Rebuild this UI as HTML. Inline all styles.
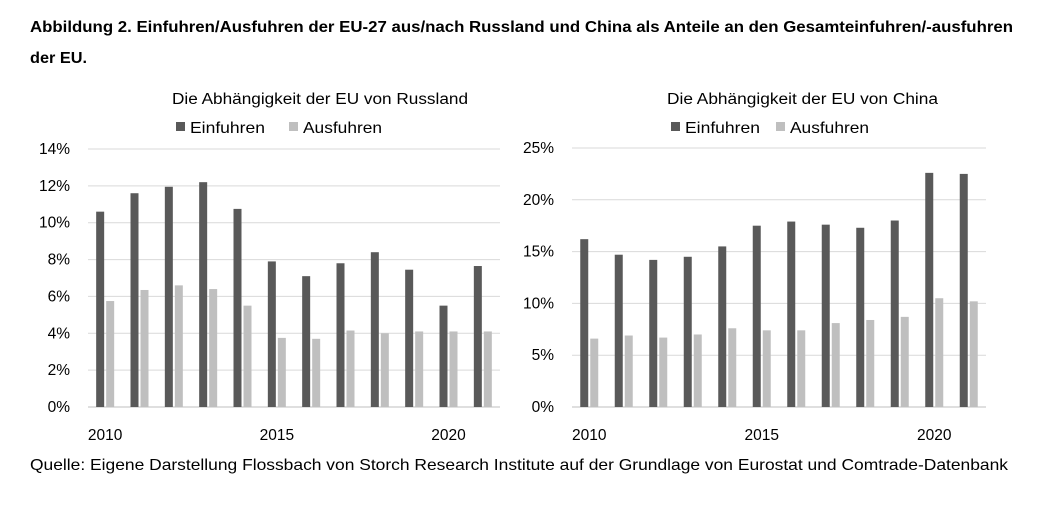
<!DOCTYPE html>
<html><head><meta charset="utf-8"><style>
body{margin:0;background:#fff;font-family:"Liberation Sans",sans-serif;}
#wrap{position:relative;width:1052px;height:507px;overflow:hidden;}
</style></head><body>
<div id="wrap">
<svg id="svg" width="1052" height="507" xmlns="http://www.w3.org/2000/svg">
<text x="30" y="32" font-size="16" font-weight="bold" fill="#000" textLength="983" lengthAdjust="spacingAndGlyphs">Abbildung 2. Einfuhren/Ausfuhren der EU-27 aus/nach Russland und China als Anteile an den Gesamteinfuhren/-ausfuhren</text>
<text x="30" y="63" font-size="16" font-weight="bold" fill="#000" textLength="57" lengthAdjust="spacingAndGlyphs">der EU.</text>
<text x="30" y="470" font-size="16" fill="#000" textLength="978" lengthAdjust="spacingAndGlyphs">Quelle: Eigene Darstellung Flossbach von Storch Research Institute auf der Grundlage von Eurostat und Comtrade-Datenbank</text>
</svg>
</div>
<script>
const years = [2010,2011,2012,2013,2014,2015,2016,2017,2018,2019,2020,2021];
const tickYears = [2010,2015,2020];
const ruImports = [10.6,11.6,11.95,12.2,10.75,7.9,7.1,7.8,8.4,7.45,5.5,7.65];
const ruExports = [5.75,6.35,6.6,6.4,5.5,3.75,3.7,4.15,4.0,4.1,4.1,4.1];
const cnImports = [16.2,14.7,14.2,14.5,15.5,17.5,17.9,17.6,17.3,18.0,22.6,22.5];
const cnExports = [6.6,6.9,6.7,7.0,7.6,7.4,7.4,8.1,8.4,8.7,10.5,10.2];
const ruTicks = [0,2,4,6,8,10,12,14];
const cnTicks = [0,5,10,15,20,25];
const NS = "http://www.w3.org/2000/svg";
const svg = document.getElementById('svg');
function el(tag, attrs, parent){const e=document.createElementNS(NS,tag);for(const k in attrs)e.setAttribute(k,attrs[k]);(parent||svg).appendChild(e);return e;}
function chart(cfg){
  const g=el('g',{});
  
  
  const x0=cfg.x0,x1=cfg.x1,y0=407,yTop=cfg.yTop,max=cfg.ticks[cfg.ticks.length-1];
  const y=v=>y0-(v/max)*(y0-yTop);
  const step=(x1-x0)/years.length;
  const xc=i=>x0+step*(i+0.5);
  cfg.ticks.forEach(t=>{
    const ln=el('line',{x1:x0,x2:x1,y1:y(t),y2:y(t),stroke:t===0?'#bfbfbf':'#d9d9d9','stroke-width':1},g);
    
    
    const tx=el('text',{x:cfg.x0-18,y:y(t)+5,'font-size':15.5,'text-anchor':'end',fill:'#000'},g);
    tx.textContent=t+'%';
    
    
  });
  years.forEach((yr,i)=>{
    const a=el('rect',{x:xc(i)-9,y:y(cfg.imp[i]),width:8,height:y0-y(cfg.imp[i]),fill:'#595959'},g);
    
    
    const b=el('rect',{x:xc(i)+1,y:y(cfg.exp[i]),width:8,height:y0-y(cfg.exp[i]),fill:'#bfbfbf'},g);
    
    
    if(tickYears.includes(yr)){
      const t=el('text',{x:xc(i),y:440,'font-size':15.5,'text-anchor':'middle',fill:'#000'},g);
      t.textContent=yr;
      
      
    }
  });
  const ti=el('text',{x:cfg.titleX,y:104,'font-size':15.5,fill:'#000',textLength:cfg.titleW,lengthAdjust:'spacingAndGlyphs'},g);
  ti.textContent=cfg.title;
  
  
  const lx=cfg.legX;
  const r1=el('rect',{x:lx,y:122,width:9,height:9,fill:'#595959'},g);
  
  
  const t1=el('text',{x:lx+14,y:133,'font-size':16,fill:'#000',textLength:75,lengthAdjust:'spacingAndGlyphs'},g);
  t1.textContent='Einfuhren';
  
  
  const r2=el('rect',{x:lx+cfg.leg2,y:122,width:9,height:9,fill:'#bfbfbf'},g);
  
  
  const t2=el('text',{x:lx+cfg.leg2+14,y:133,'font-size':16,fill:'#000',textLength:79,lengthAdjust:'spacingAndGlyphs'},g);
  t2.textContent='Ausfuhren';
  
  
}
chart({name:'russia-chart',x0:88,x1:500,yTop:149,ticks:ruTicks,imp:ruImports,exp:ruExports,title:'Die Abhängigkeit der EU von Russland',titleX:172,titleW:296,legX:176,leg2:113});
chart({name:'china-chart',x0:572,x1:986,yTop:148,ticks:cnTicks,imp:cnImports,exp:cnExports,title:'Die Abhängigkeit der EU von China',titleX:667,titleW:271,legX:671,leg2:105});
</script>
</body></html>
